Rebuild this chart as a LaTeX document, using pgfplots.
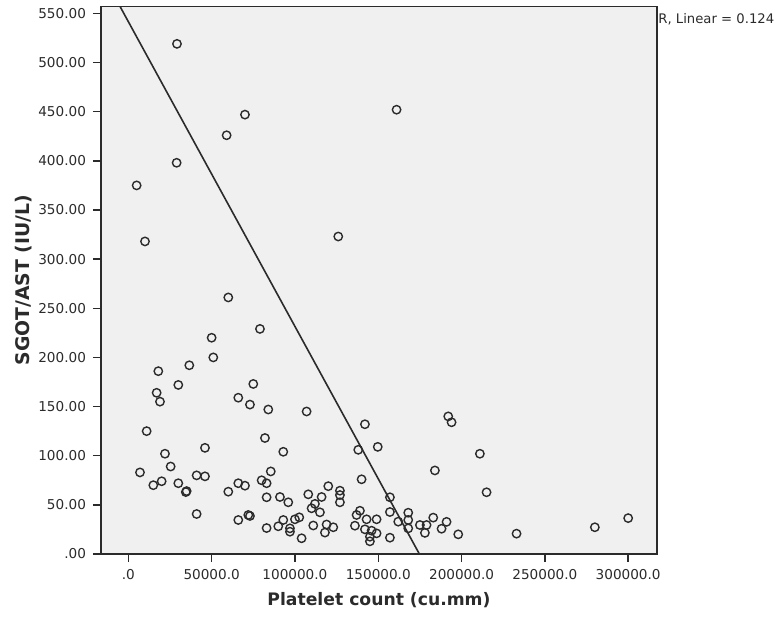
\documentclass[border=0pt]{standalone}
\usepackage{fontspec}
\setmainfont{DejaVu Sans}
\usepackage{xcolor}
\usepackage{pgfplots}
\pgfplotsset{compat=1.18}
\definecolor{bggray}{HTML}{F0F0F0}
\definecolor{ink}{HTML}{2B2B2B}

% platelet count vs SGOT/AST
\pgfplotstableread{
x y
29200 519
5000 375
29000 398
59000 426
70000 447
161000 452
10000 318
60000 261
79000 229
50000 220
126000 323
51000 200
18000 186
36600 192
30000 172
17000 164
19000 155
75000 173
66000 159
73000 152
84000 147
11000 125
82000 118
93000 104
46000 108
22000 102
25400 89
7000 83
41000 80
46000 79
15000 70
20000 74
30000 72
35000 64
34500 63
85500 84
80000 75
83000 72
66000 72
70000 69.5
60000 63.4
83000 57.7
91000 58
96000 52.6
41000 40.7
66000 34.6
72000 39.7
73000 38.7
83000 26.4
90000 28.2
93000 34.6
97000 26.1
97000 22.7
100000 35.3
102600 37.3
104000 16
107000 145
142000 132
149700 109
138000 106
192000 140
194000 134
211000 102
184000 85
140000 76
120000 69
127000 64.4
127000 60
127000 52.6
108000 60.7
116000 58
112000 51
110000 46.5
115000 42.4
157000 57.7
157000 42.7
168000 42
168000 34.6
168000 26.1
162000 32.9
139000 44
137000 39.7
136000 28.8
143000 35.3
149000 35.3
142000 25.1
146000 23.7
149000 21
145000 17.6
145000 12.9
157000 16.6
175000 29.5
179000 29.5
178000 21.5
183000 37
191000 32.7
188000 25.7
198000 20
111000 29
119000 30
118000 21.8
123000 27.2
215000 62.8
233000 20.7
280000 27.2
300000 36.5
}\plt

\begin{document}
\begin{tikzpicture}
\begin{axis}[
    name=ax,
    scale only axis, width=278pt, height=273.75pt,
    xmin=-16400, xmax=317300, ymin=0, ymax=557,
    axis background/.style={fill=bggray},
    axis line style={draw=ink, line width=0.75pt},
    tick align=outside, major tick length=4pt,
    xtick pos=left, ytick pos=left,
    tick style={draw=ink, line width=0.75pt},
    xtick={0,50000,100000,150000,200000,250000,300000},
    xticklabels={.0,50000.0,100000.0,150000.0,200000.0,250000.0,300000.0},
    ytick={0,50,100,150,200,250,300,350,400,450,500,550},
    yticklabels={.00,50.00,100.00,150.00,200.00,250.00,300.00,350.00,400.00,450.00,500.00,550.00},
    ticklabel style={font=\fontsize{6.8}{7.5}\selectfont, text=ink},
    scaled x ticks=false,
    xlabel={Platelet count (cu.mm)},
    ylabel={SGOT/AST (IU/L)},
    xlabel style={font=\bfseries\fontsize{8.6}{10}\selectfont, text=ink,
        at={(axis description cs:0.5,-0.084)}, anchor=center},
    ylabel style={font=\bfseries\fontsize{9.4}{10}\selectfont, text=ink,
        at={(axis description cs:-0.14,0.5)}, anchor=center},
]
\addplot[only marks, mark=o, mark size=2.1pt,
    mark options={draw=ink, line width=0.7pt}] table[x=x, y=y] {\plt};
\addplot[no marks, draw=ink, line width=0.8pt]
    coordinates {(-10000,572.6) (180000,-16.5)};
\end{axis}
\node[anchor=west, inner sep=0.5pt, yshift=-6.25pt, text=ink,
    font=\fontsize{6.6}{7}\selectfont] at (ax.north east) {R, Linear = 0.124};
\pgfresetboundingbox
\path (-50.5pt,-31pt) rectangle (340.5pt,277pt);
\end{tikzpicture}
\end{document}
